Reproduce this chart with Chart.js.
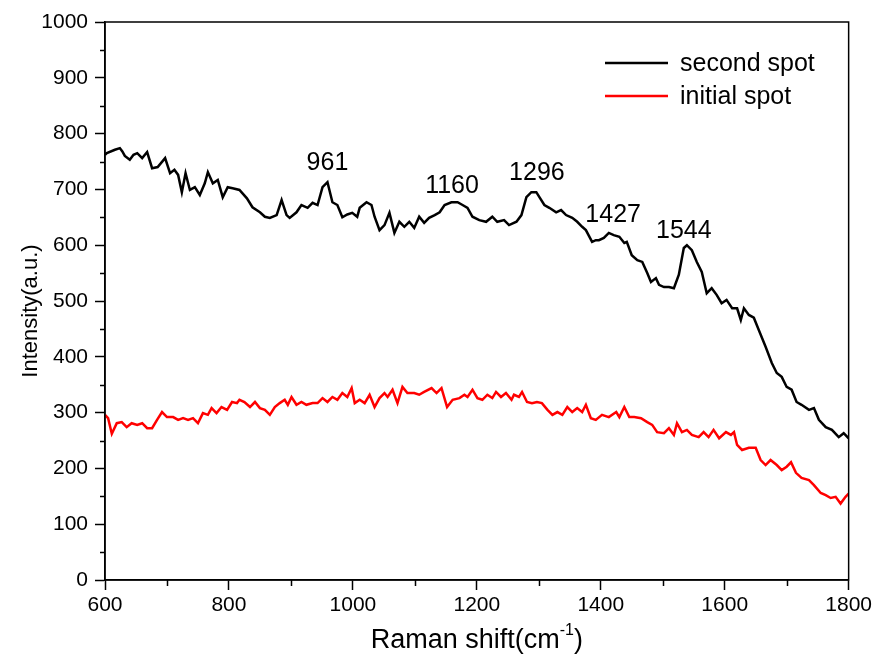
<!DOCTYPE html>
<html>
<head>
<meta charset="utf-8">
<script src="https://cdn.jsdelivr.net/npm/chart.js@4.4.1/dist/chart.umd.min.js"></script>
<style>
  body { margin: 0; background: #fff; }
  #wrap { width: 875px; height: 655px; }
</style>
</head>
<body>
<div id="wrap"><canvas id="myChart" width="875" height="655"></canvas></div>
<script>
// Raman shift (cm-1) and intensity
var secondX = [600, 603, 616, 624, 628, 632, 640, 646, 652, 660, 668, 676, 685, 697, 705, 712, 718, 724, 730, 737,
  745, 753, 761, 766, 774, 782, 790, 798, 806, 817, 829, 838, 850, 858, 866, 877, 885, 893, 898, 909,
  917, 927, 935, 943, 951, 959, 967, 975, 983, 991, 999, 1007, 1011, 1022, 1030, 1035, 1043, 1051, 1059, 1067,
  1075, 1083, 1091, 1099, 1107, 1115, 1123, 1132, 1140, 1148, 1159, 1169, 1177, 1185, 1193, 1204, 1215, 1225, 1233, 1244,
  1252, 1264, 1272, 1280, 1288, 1296, 1301, 1309, 1317, 1328, 1336, 1344, 1354, 1362, 1370, 1376, 1386, 1392, 1397, 1405,
  1413, 1421, 1430, 1438, 1442, 1450, 1459, 1467, 1475, 1481, 1489, 1494, 1502, 1510, 1518, 1526, 1534, 1539, 1547, 1555,
  1563, 1571, 1579, 1587, 1595, 1603, 1612, 1620, 1626, 1631, 1639, 1647, 1655, 1666, 1676, 1684, 1692, 1700, 1708, 1716,
  1724, 1736, 1744, 1752, 1763, 1773, 1784, 1792, 1800];
var secondY = [762, 765, 771, 774, 768, 760, 753, 762, 765, 756, 767, 738, 740, 756, 729, 735, 726, 695, 729, 699,
  704, 690, 711, 731, 711, 717, 686, 704, 702, 699, 684, 668, 659, 651, 649, 654, 681, 654, 649, 659,
  672, 667, 676, 672, 704, 713, 677, 672, 650, 655, 658, 651, 667, 677, 672, 651, 627, 636, 658, 622,
  642, 633, 642, 631, 651, 640, 649, 654, 659, 672, 677, 677, 672, 667, 651, 645, 642, 651, 642, 645,
  636, 642, 654, 686, 695, 695, 686, 672, 667, 659, 663, 654, 649, 642, 633, 627, 606, 609, 609, 613,
  622, 618, 615, 604, 606, 582, 573, 570, 550, 534, 541, 529, 525, 525, 523, 547, 595, 600, 591, 570,
  552, 514, 523, 511, 496, 502, 487, 487, 466, 487, 475, 470, 448, 418, 389, 371, 364, 346, 341, 319,
  314, 305, 308, 287, 274, 269, 256, 263, 254];

var initialX = [600, 605, 611, 619, 627, 635, 643, 652, 660, 668, 676, 684, 692, 700, 710, 718, 726, 734, 742, 750,
  758, 766, 772, 780, 788, 797, 805, 813, 817, 825, 834, 842, 850, 858, 866, 874, 882, 890, 895, 901,
  909, 917, 925, 935, 943, 951, 959, 967, 975, 983, 991, 998, 1003, 1011, 1019, 1027, 1035, 1043, 1051, 1056,
  1064, 1072, 1080, 1088, 1099, 1107, 1115, 1127, 1135, 1143, 1152, 1161, 1172, 1180, 1185, 1193, 1201, 1209, 1217, 1225,
  1231, 1239, 1247, 1256, 1260, 1268, 1273, 1281, 1289, 1297, 1305, 1314, 1322, 1330, 1338, 1346, 1354, 1362, 1370, 1376,
  1384, 1392, 1402, 1413, 1425, 1430, 1438, 1446, 1454, 1465, 1475, 1483, 1491, 1502, 1510, 1518, 1523, 1531, 1539, 1547,
  1558, 1566, 1574, 1582, 1591, 1602, 1610, 1615, 1620, 1628, 1639, 1650, 1658, 1666, 1674, 1684, 1692, 1700, 1707, 1715,
  1724, 1736, 1744, 1755, 1763, 1771, 1779, 1787, 1795, 1800];
var initialY = [296, 290, 262, 281, 283, 274, 281, 278, 281, 272, 272, 287, 301, 292, 292, 287, 290, 287, 290, 281,
  299, 296, 308, 299, 310, 305, 319, 317, 323, 319, 310, 319, 308, 305, 296, 310, 317, 323, 314, 328,
  314, 319, 314, 317, 317, 326, 319, 328, 323, 335, 328, 344, 317, 323, 317, 332, 310, 326, 335, 328,
  341, 317, 346, 335, 335, 332, 337, 344, 335, 344, 310, 323, 326, 332, 328, 341, 326, 323, 332, 326,
  337, 328, 335, 323, 332, 328, 337, 319, 317, 319, 317, 305, 296, 301, 296, 310, 301, 308, 301, 314,
  290, 287, 296, 292, 301, 292, 310, 292, 292, 290, 283, 278, 265, 263, 272, 260, 281, 265, 269, 260,
  256, 265, 256, 269, 254, 265, 260, 265, 242, 233, 237, 237, 215, 206, 215, 206, 197, 203, 211, 192,
  183, 179, 170, 156, 152, 147, 149, 137, 149, 155];

var seriesNames = ['second spot', 'initial spot'];
var seriesColors = ['#000000', '#ff0000'];

// peak labels and where they sit (data units, text baseline)
var peakLabels = ['961', '1160', '1296', '1427', '1544'];
var peakX = [959, 1160, 1297, 1420, 1534];
var peakY = [735, 694, 717, 642, 613];

var xTicks = [600, 800, 1000, 1200, 1400, 1600, 1800];
var yTicks = [0, 100, 200, 300, 400, 500, 600, 700, 800, 900, 1000];

var FONT = '"Liberation Sans", Arial, sans-serif';

function toPoints(xs, ys) {
  return xs.map(function(x, i) { return { x: x, y: ys[i] }; });
}

// frame, minor ticks, peak labels, legend and axis titles
var extras = {
  id: 'extras',
  afterDraw: function(chart) {
    var ctx = chart.ctx;
    var a = chart.chartArea;
    var xs = chart.scales.x;
    var ys = chart.scales.y;
    ctx.save();
    ctx.strokeStyle = '#000';
    ctx.lineWidth = 1.5;
    ctx.strokeRect(a.left, a.top, a.right - a.left, a.bottom - a.top);

    // minor ticks
    ctx.beginPath();
    for (var v = 50; v < 1000; v += 100) {
      var py = Math.round(ys.getPixelForValue(v)) + 0.5;
      ctx.moveTo(a.left - 5, py);
      ctx.lineTo(a.left, py);
    }
    for (var w = 700; w < 1800; w += 200) {
      var px = Math.round(xs.getPixelForValue(w)) + 0.5;
      ctx.moveTo(px, a.bottom);
      ctx.lineTo(px, a.bottom + 6);
    }
    ctx.stroke();

    ctx.fillStyle = '#000';
    ctx.font = '25px ' + FONT;
    ctx.textAlign = 'center';
    ctx.textBaseline = 'alphabetic';
    peakLabels.forEach(function(t, i) {
      ctx.fillText(t, xs.getPixelForValue(peakX[i]), ys.getPixelForValue(peakY[i]));
    });

    // legend
    ctx.textAlign = 'left';
    chart.data.datasets.forEach(function(ds, i) {
      var ly = a.top + 41 + i * 33;
      ctx.strokeStyle = ds.borderColor;
      ctx.lineWidth = 2.5;
      ctx.beginPath();
      ctx.moveTo(a.left + 500, ly);
      ctx.lineTo(a.left + 563, ly);
      ctx.stroke();
      ctx.fillStyle = '#000';
      ctx.font = '25px ' + FONT;
      ctx.fillText(ds.label, a.left + 575, ly + 8);
    });

    // x title with superscript
    var base = 648;
    var main = 'Raman shift(cm';
    ctx.font = '27px ' + FONT;
    var w1 = ctx.measureText(main).width;
    ctx.font = '16px ' + FONT;
    var w2 = ctx.measureText('-1').width;
    ctx.font = '27px ' + FONT;
    var w3 = ctx.measureText(')').width;
    var sx = (a.left + a.right) / 2 - (w1 + w2 + w3) / 2;
    ctx.fillText(main, sx, base);
    ctx.font = '16px ' + FONT;
    ctx.fillText('-1', sx + w1, base - 13);
    ctx.font = '27px ' + FONT;
    ctx.fillText(')', sx + w1 + w2, base);

    // y title
    ctx.translate(37, 311);
    ctx.rotate(-Math.PI / 2);
    ctx.textAlign = 'center';
    ctx.font = '22px ' + FONT;
    ctx.fillText('Intensity(a.u.)', 0, 0);
    ctx.restore();
  }
};

function plain(v) { return String(v); }

var ctx = document.getElementById('myChart').getContext('2d');
var myChart = new Chart(ctx, {
  type: 'line',
  data: {
    datasets: [{
      label: seriesNames[0],
      data: toPoints(secondX, secondY),
      borderColor: seriesColors[0],
      borderWidth: 2.5,
      pointRadius: 0,
      tension: 0,
      fill: false
    }, {
      label: seriesNames[1],
      data: toPoints(initialX, initialY),
      borderColor: seriesColors[1],
      borderWidth: 2.5,
      pointRadius: 0,
      tension: 0,
      fill: false
    }]
  },
  options: {
    responsive: false,
    animation: false,
    layout: { padding: { left: 0, right: 25, top: 22, bottom: 0 } },
    plugins: {
      legend: { display: false },
      tooltip: { enabled: false }
    },
    scales: {
      x: {
        type: 'linear',
        min: 600,
        max: 1800,
        afterBuildTicks: function(scale) {
          scale.ticks = xTicks.map(function(v) { return { value: v }; });
        },
        afterFit: function(scale) { scale.height = 75; },
        border: { color: '#000', width: 1.5 },
        grid: { drawOnChartArea: false, drawTicks: true, tickLength: 10, tickColor: '#000', tickWidth: 1.5 },
        ticks: { color: '#000', font: { family: FONT, size: 21 }, padding: 3, maxRotation: 0, callback: plain }
      },
      y: {
        min: 0,
        max: 1000,
        afterBuildTicks: function(scale) {
          scale.ticks = yTicks.map(function(v) { return { value: v }; });
        },
        afterFit: function(scale) { scale.width = 105; },
        border: { color: '#000', width: 1.5 },
        grid: { drawOnChartArea: false, drawTicks: true, tickLength: 10, tickColor: '#000', tickWidth: 1.5 },
        ticks: { color: '#000', font: { family: FONT, size: 21 }, padding: 7, callback: plain }
      }
    }
  },
  plugins: [extras]
});
</script>
</body>
</html>
